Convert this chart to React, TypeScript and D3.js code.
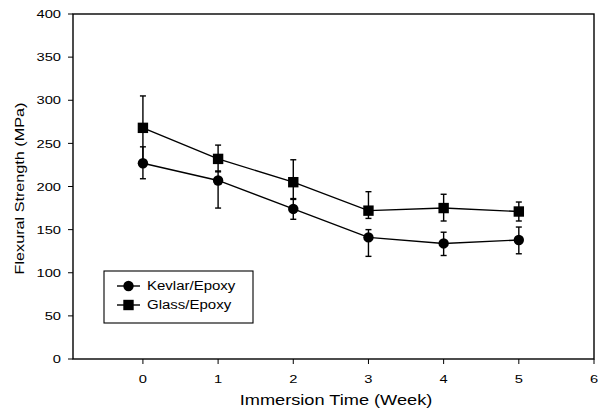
import React from "react";
import * as d3 from "d3";

const weeks = [0, 1, 2, 3, 4, 5];
const kevlar = [227, 207, 174, 141, 134, 138];
const kevlarLow = [209, 175, 162, 119, 120, 122];
const kevlarHigh = [246, 218, 185, 150, 147, 153];
const glass = [268, 232, 205, 172, 175, 171];
const glassLow = [231, 217, 186, 163, 160, 160];
const glassHigh = [305, 248, 231, 194, 191, 182];
const xTicks = [0, 1, 2, 3, 4, 5, 6];
const yTicks = [0, 50, 100, 150, 200, 250, 300, 350, 400];

const W = 598, H = 412;
const left = 73, right = 594, top = 14, bottom = 359;
const font = "Liberation Sans, Arial, sans-serif";

export default function App() {
  const x = d3.scaleLinear().domain([-0.93, 6]).range([left, right]);
  const y = d3.scaleLinear().domain([0, 400]).range([bottom, top]);
  const line = d3.line<number>().x((_, i) => x(weeks[i])).y((d) => y(d));

  const series = [
    { name: "Kevlar/Epoxy", v: kevlar, lo: kevlarLow, hi: kevlarHigh, m: "circle" },
    { name: "Glass/Epoxy", v: glass, lo: glassLow, hi: glassHigh, m: "square" },
  ];

  const marker = (m: string, cx: number, cy: number, key: string) =>
    m === "circle" ? (
      <circle key={key} cx={cx} cy={cy} r={5.2} fill="#000" />
    ) : (
      <rect key={key} x={cx - 5.2} y={cy - 5.2} width={10.4} height={10.4} fill="#000" />
    );

  return (
    <svg width={W} height={H} style={{ position: "absolute", left: 0, top: 0, background: "#fff" }} fontFamily={font}>
      <rect x={0} y={0} width={W} height={H} fill="#fff" />
      {/* frame */}
      <rect x={left} y={top} width={right - left} height={bottom - top} fill="none" stroke="#000" strokeWidth={1.4} />
      {/* y ticks */}
      {yTicks.map((t) => (
        <g key={"y" + t}>
          <line x1={left - 5} x2={left} y1={y(t)} y2={y(t)} stroke="#000" strokeWidth={1} />
          <text transform={`translate(61,${y(t)}) scale(1.28,1)`} dy="0.36em" textAnchor="end" fontSize={11.5} fill="#000">
            {t}
          </text>
        </g>
      ))}
      {/* x ticks */}
      {xTicks.map((t) => (
        <g key={"x" + t}>
          <line x1={x(t)} x2={x(t)} y1={bottom} y2={bottom + 5} stroke="#000" strokeWidth={1} />
          <text transform={`translate(${x(t)},383) scale(1.28,1)`} textAnchor="middle" fontSize={11.5} fill="#000">
            {t}
          </text>
        </g>
      ))}
      <text transform="translate(336,405) scale(1.3,1)" textAnchor="middle" fontSize={14} fill="#000">
        Immersion Time (Week)
      </text>
      <text transform={`translate(19,188.5) rotate(-90) scale(1.2,1)`} textAnchor="middle" dy="0.35em" fontSize={13.5} fill="#000">
        Flexural Strength (MPa)
      </text>
      {series.map((s) => (
        <g key={s.name}>
          <path d={line(s.v) || ""} fill="none" stroke="#000" strokeWidth={1.4} />
          {s.v.map((_, i) => {
            const cx = x(weeks[i]);
            return (
              <g key={i} stroke="#000" strokeWidth={1.4}>
                <line x1={cx} x2={cx} y1={y(s.lo[i])} y2={y(s.hi[i])} />
                <line x1={cx - 3} x2={cx + 3} y1={y(s.lo[i])} y2={y(s.lo[i])} />
                <line x1={cx - 3} x2={cx + 3} y1={y(s.hi[i])} y2={y(s.hi[i])} />
              </g>
            );
          })}
          {s.v.map((d, i) => marker(s.m, x(weeks[i]), y(d), s.name + i))}
        </g>
      ))}
      {/* legend */}
      <rect x={104} y={271} width={149} height={52} fill="#fff" stroke="#000" strokeWidth={1.1} />
      {series.map((s, i) => {
        const ly = 286 + i * 19;
        return (
          <g key={"l" + s.name}>
            <line x1={117} x2={140} y1={ly} y2={ly} stroke="#000" strokeWidth={1.4} />
            {marker(s.m, 128.5, ly, "lm" + i)}
            <text transform={`translate(147,${ly}) scale(1.25,1)`} dy="0.35em" fontSize={12} fill="#000">
              {s.name}
            </text>
          </g>
        );
      })}
    </svg>
  );
}
